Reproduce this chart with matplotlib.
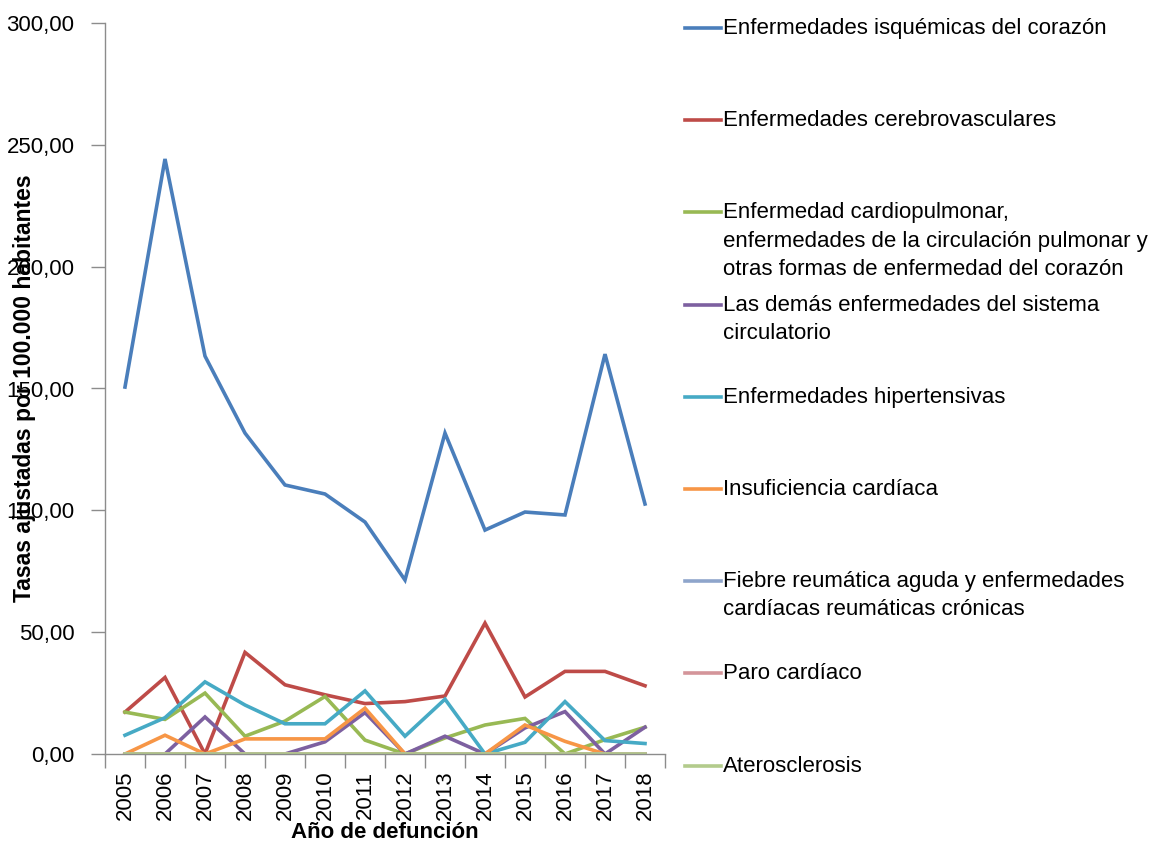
import matplotlib
matplotlib.use("Agg")
import matplotlib.pyplot as plt
from matplotlib.lines import Line2D
from matplotlib.ticker import FuncFormatter, MultipleLocator
import numpy as np

plt.rcParams['font.family'] = ['Liberation Sans', 'DejaVu Sans']

years = [2005, 2006, 2007, 2008, 2009, 2010, 2011, 2012, 2013, 2014, 2015, 2016, 2017, 2018]

isquemicas = [150.6, 244.2, 163.3, 131.7, 110.4, 106.7, 95.2, 71.4, 131.7, 91.9, 99.3, 98.1, 164.1, 102.6]
cerebrovasculares = [17.2, 31.4, 0.0, 41.7, 28.4, 24.3, 20.7, 21.5, 23.8, 53.7, 23.4, 33.9, 33.9, 28.0]
cardiopulmonar = [17.2, 14.2, 25.0, 7.3, 13.5, 23.6, 5.7, 0.0, 6.6, 11.9, 14.6, 0.0, 5.9, 11.0]
demas = [0.0, 0.0, 15.2, 0.0, 0.0, 5.0, 17.0, 0.0, 7.3, 0.0, 10.7, 17.4, 0.0, 11.0]
hipertensivas = [7.7, 14.9, 29.6, 20.1, 12.4, 12.4, 25.9, 7.3, 22.5, 0.0, 4.8, 21.5, 5.5, 4.3]
insuficiencia = [0.0, 7.7, 0.0, 6.2, 6.2, 6.2, 18.8, 0.0, 0.0, 0.0, 11.9, 5.2, 0.0, 0.0]
fiebre = [0.0] * 14
paro = [0.0] * 14
aterosclerosis = [0.0] * 14

labels = [
    "Enfermedades isquémicas del corazón",
    "Enfermedades cerebrovasculares",
    "Enfermedad cardiopulmonar,\nenfermedades de la circulación pulmonar y\notras formas de enfermedad del corazón",
    "Las demás enfermedades del sistema\ncirculatorio",
    "Enfermedades hipertensivas",
    "Insuficiencia cardíaca",
    "Fiebre reumática aguda y enfermedades\ncardíacas reumáticas crónicas",
    "Paro cardíaco",
    "Aterosclerosis",
]
series = [isquemicas, cerebrovasculares, cardiopulmonar, demas, hipertensivas,
          insuficiencia, fiebre, paro, aterosclerosis]
colors = ["#4A7EBB", "#BE4B48", "#98B954", "#7D60A0", "#46AAC5",
          "#F79646", "#8EA5CB", "#D4959A", "#B3CB8C"]

fig = plt.figure(figsize=(11.62, 8.48), dpi=100)
ax = fig.add_axes([105 / 1162, 1 - 754 / 848, 560 / 1162, 731 / 848])

for vals, c in zip(series, colors):
    ax.plot(years, vals, color=c, lw=2.6, solid_joinstyle='miter')

ax.set_xlim(years[0] - 0.5, years[-1] + 0.5)
ax.set_ylim(0, 300)

# category axis: ticks between categories, labels at centres
ax.set_xticks([y - 0.5 for y in years] + [years[-1] + 0.5])
ax.set_xticklabels([])
ax.set_xticks(years, minor=True)
ax.set_xticklabels([str(y) for y in years], minor=True, rotation=90, fontsize=16)
ax.tick_params(axis='x', which='major', length=10, width=1, color='#8C8C8C', direction='out')
ax.tick_params(axis='x', which='minor', length=0, pad=12)

ax.yaxis.set_major_locator(MultipleLocator(50))
ax.yaxis.set_major_formatter(FuncFormatter(lambda v, p: f"{v:.2f}".replace('.', ',')))
ax.tick_params(axis='y', length=10, width=1, color='#8C8C8C', labelsize=16, pad=12)

for s in ['top', 'right']:
    ax.spines[s].set_visible(False)
for s in ['left', 'bottom']:
    ax.spines[s].set_color('#8C8C8C')
    ax.spines[s].set_linewidth(1)

fig.text(25 / 1162, 1 - 388 / 848, "Tasas ajustadas por 100.000 habitantes",
         rotation=90, ha='center', va='center', fontsize=16.5, fontweight='bold')
fig.text(385 / 1162, 1 - 833 / 848, "Año de defunción",
         ha='center', va='center', fontsize=16, fontweight='bold')

# legend on the right, drawn entry by entry (marker aligned with first line)
for i, (lab, c) in enumerate(zip(labels, colors)):
    ypx = 28 + 92.2 * i
    yf = 1 - ypx / 848
    fig.add_artist(Line2D([685 / 1162, 721 / 1162], [yf, yf], color=c, lw=2.6,
                          transform=fig.transFigure))
    fig.text(723 / 1162, 1 - (ypx - 10) / 848, lab, ha='left', va='top',
             fontsize=16, linespacing=1.45)

fig.savefig("out.png", dpi=100)
